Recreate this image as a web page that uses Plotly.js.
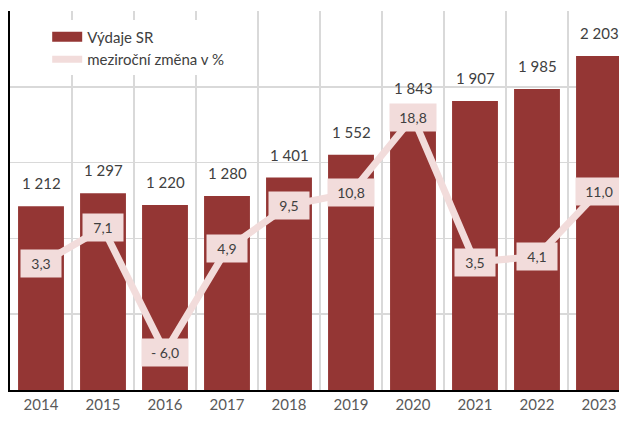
<!DOCTYPE html>
<html>
<head>
<meta charset="utf-8">
<script src="https://cdn.plot.ly/plotly-3.0.1.min.js"></script>
<style>
html,body{margin:0;padding:0;overflow:hidden;background:#fff;}
#chart{width:640px;height:423px;}
</style>
</head>
<body>
<div id="chart"></div>
<script>
const years = ["2014","2015","2016","2017","2018","2019","2020","2021","2022","2023"];
const spending = [1212,1297,1220,1280,1401,1552,1843,1907,1985,2203];
const changePct = [3.3,7.1,-6.0,4.9,9.5,10.8,18.8,3.5,4.1,11.0];
const seriesNames = ["Výdaje SR","meziroční změna v %"];

const barColor = "#943634";
const lineColor = "#f2dcdb";
const textColor = "#404040";
const fontFam = "Lato, 'Open Sans', sans-serif";

function fmtThousands(v){ return String(v).replace(/\B(?=(\d{3})+(?!\d))/g, " "); }
function fmtPct(v){
  const s = Math.abs(v).toFixed(1).replace(".", ",");
  return v < 0 ? "- " + s : s;
}

const traces = [
  {type:"bar", x:years, y:spending, marker:{color:barColor}, showlegend:false, hoverinfo:"skip"},
  {type:"scatter", mode:"lines", x:[years[0]], y:[null], name:seriesNames[0],
   line:{color:barColor, width:10}, showlegend:true, hoverinfo:"skip"},
  {type:"scatter", mode:"lines", x:years, y:changePct, yaxis:"y2", name:seriesNames[1],
   line:{color:lineColor, width:7}, hoverinfo:"skip"}
];

const annotations = [];
years.forEach((yr,i)=>{
  annotations.push({x:i, y:spending[i], xref:"x", yref:"y", text:fmtThousands(spending[i]),
    showarrow:false, yanchor:"bottom", yshift:12, font:{family:fontFam, size:15, color:textColor}});
  const t = fmtPct(changePct[i]);
  annotations.push({x:i, y:changePct[i], xref:"x", yref:"y2", text:t,
    showarrow:false, bgcolor:lineColor, borderpad:5, width: t.length<=3 ? 30 : 36,
    font:{family:fontFam, size:14, color:textColor}});
});

const layout = {
  width:640, height:423,
  margin:{l:10, r:10, t:11, b:33},
  paper_bgcolor:"#fff", plot_bgcolor:"#fff",
  bargap:0.26,
  separators:", ",
  font:{family:fontFam, color:textColor},
  xaxis:{type:"category", categoryorder:"array", categoryarray:years, range:[-0.5,9.5],
    tickson:"boundaries", showgrid:true, gridcolor:"#d9d9d9", gridwidth:1.5,
    showline:true, linecolor:"#000", linewidth:2, ticks:"", tickfont:{size:15, color:"#595959"},
    tickangle:0},
  yaxis:{range:[0,2500], dtick:500, showgrid:true, gridcolor:"#d9d9d9", gridwidth:1.5,
    showticklabels:false, ticks:"", zeroline:false, showline:true, linecolor:"#000", linewidth:2},
  yaxis2:{range:[-10,30], overlaying:"y", side:"right", showgrid:false, showticklabels:false,
    zeroline:false, showline:false, ticks:""},
  legend:{x:0.06, y:0.975, xanchor:"left", yanchor:"top", bgcolor:"#fff",
    font:{size:15, color:textColor}, tracegroupgap:0},
  annotations:annotations
};

Plotly.newPlot("chart", traces, layout, {staticPlot:true, displayModeBar:false});
</script>
</body>
</html>
